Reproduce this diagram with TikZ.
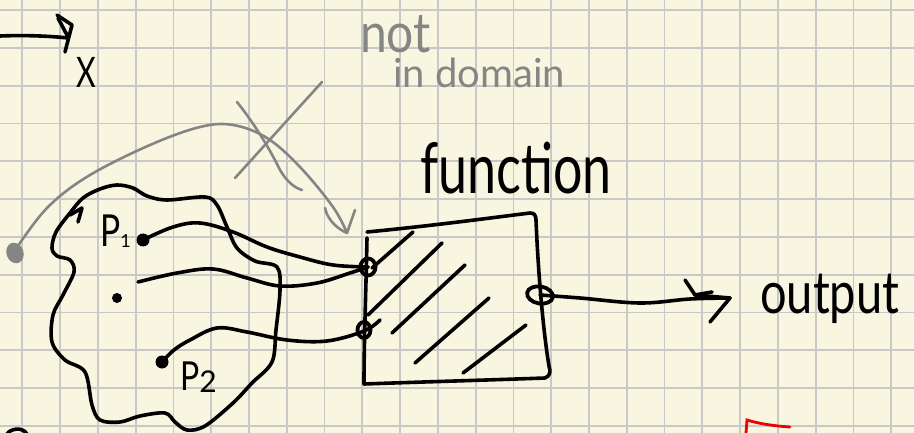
\documentclass[tikz,border=0pt]{standalone}
\usepackage{fontspec}
\setmainfont{Lato}
\usetikzlibrary{shapes.geometric}

\definecolor{paper}{HTML}{F8F6E0}
\definecolor{gridline}{HTML}{C8C8C6}
\definecolor{pencil}{HTML}{858585}
\definecolor{redpen}{HTML}{F00000}

\tikzset{
  ink/.style={line width=3.6pt, line cap=round, line join=round, black},
  greyink/.style={line width=2.6pt, line cap=round, line join=round, pencil},
  dotmark/.style={circle, fill=black, inner sep=0pt, minimum size=13pt},
  ringmark/.style={ellipse, draw=black, line width=3.8pt, inner sep=0pt},
  hand/.style={inner sep=0pt, anchor=base west},
}

\begin{document}
\begin{tikzpicture}[x=1pt, y=-1pt]
  % paper and squared grid
  \fill[paper] (0,0) rectangle (914,433);
  \useasboundingbox (0,0) rectangle (914,433);
  \foreach \i in {0,...,23}
    \draw[gridline, line width=1.8pt] (22.3+37.78*\i,0) -- (22.3+37.78*\i,433);
  \foreach \j in {0,...,11}
    \draw[gridline, line width=1.8pt] (0,10.2+37.78*\j) -- (914,10.2+37.78*\j);

  % axis arrow and its label
  \coordinate (axL) at (0,36);
  \coordinate (axR) at (68,38);
  \draw[ink] (axL) .. controls (25,35) and (50,36) .. (axR);
  \draw[ink] (58,18) -- (68,37);
  \draw[ink] (57,15) -- (72,25) -- (65,52);
  \node[hand] (xlab) at (76,88) {\fontsize{42}{42}\selectfont\scalebox{0.72}[1]{X}};

  % grey note
  \node[hand, text=pencil] (note1) at (360,53) {\fontsize{48}{48}\selectfont\scalebox{1}[1.15]{not}};
  \node[hand, text=pencil] (note2) at (393,88) {\fontsize{40}{40}\selectfont in domain};

  % the domain
  \draw[ink] plot[smooth cycle, tension=0.55] coordinates {
    (70,213) (83,198) (100,189) (117,185) (133,188) (147,196) (167,200)
    (205,197) (217,205) (227,227) (237,248) (255,261) (277,267) (280,290)
    (276,330) (272,362) (252,383) (233,403) (205,426) (187,430) (175,422)
    (165,413) (140,416) (120,422) (100,420) (92,405) (85,372) (65,360)
    (52,342) (53,315) (63,295) (74,272) (70,260) (57,256) (52,248) (56,232)};
  \draw[ink] (70,215) -- (82,208) -- (78,222);

  % points of the domain
  \node[dotmark] (p1) at (143,240) {};
  \node[dotmark, minimum size=10pt] (pm) at (117,298) {};
  \node[dotmark] (p2) at (162,362) {};
  \coordinate (mstart) at (138,282);
  \node[hand] (p1lab) at (100,247) {\fontsize{42}{42}\selectfont\scalebox{0.8}[1.05]{P}\raisebox{-1pt}{\fontsize{18}{18}\selectfont 1}};
  \node[hand] (p2lab) at (180,390) {\fontsize{40}{40}\selectfont\scalebox{0.8}[1]{P}\raisebox{-2pt}{\fontsize{30}{30}\selectfont 2}};

  % the function box
  \coordinate (fTL) at (367,232);
  \draw[ink] (367,238) .. controls (366,290) and (364,340) .. (364,384)
    .. controls (420,382) and (490,380) .. (545,378)
    .. controls (550,376) and (551,372) .. (549,366)
    .. controls (543,330) and (538,270) .. (536,220)
    .. controls (536,215) and (534,213) .. (530,213)
    .. controls (490,218) and (430,226) .. (fTL);
  \node[font=\fontsize{52}{52}\selectfont, hand] (fname) at (420,194) {\scalebox{1}[1.35]{function}};

  % hatching
  \draw[ink] (413,232) -- (372,268);
  \draw[ink] (442,243) -- (368,315);
  \draw[ink] (465,265) -- (392,333);
  \draw[ink] (489,298) -- (415,363);
  \draw[ink] (526,325) -- (463,373);

  % inputs and output
  \node[ringmark, minimum width=15pt, minimum height=17pt] (inA) at (368,267) {};
  \node[ringmark, minimum width=13pt, minimum height=16pt] (inB) at (364,330) {};
  \node[ringmark, minimum width=26pt, minimum height=17pt, rotate=-10] (outR) at (540,295) {};
  \coordinate (tailB) at (380,320);

  \draw[ink] plot[smooth, tension=0.6] coordinates {
    (p1) (173,227) (200,223) (233,232) (267,247) (300,257) (333,265) (inA)};
  \draw[ink] plot[smooth, tension=0.6] coordinates {
    (mstart) (177,273) (213,269) (247,278) (280,286) (317,283) (350,273) (inA)};
  \draw[ink] plot[smooth, tension=0.6] coordinates {
    (p2) (174,350) (190,340) (217,328) (247,332) (287,340) (327,341) (364,331) (tailB)};

  % output arrow
  \coordinate (tip) at (730,298);
  \draw[ink] plot[smooth, tension=0.6] coordinates {
    (outR) (580,298) (640,303) (690,299) (tip)};
  \draw[ink] (685,280) -- (695,295) -- (tip) -- (710,322);
  \draw[ink] (695,295) -- (712,292);
  \node[hand] (outlab) at (760,313) {\fontsize{47}{47}\selectfont\scalebox{1}[1.25]{output}};

  % grey arrow from a point outside the domain, crossed out
  \node[ellipse, fill=pencil, minimum width=17pt, minimum height=21pt, inner sep=0pt, rotate=20] (outside) at (15,253) {};
  \coordinate (gtip) at (347,233);
  \draw[greyink] plot[smooth, tension=0.6] coordinates {
    (outside) (22,240) (50,205) (90,175) (150,145) (200,127) (233,125)
    (267,138) (300,167) (333,207) (gtip)};
  \draw[greyink] (325,208) .. controls (328,222) and (340,230) .. (gtip);
  \draw[greyink] (355,210) -- (gtip);
  \draw[greyink] (322,82) -- (235,178);
  \draw[greyink] (237,102) .. controls (250,118) and (268,145) .. (280,170)
    .. controls (287,182) and (295,188) .. (302,190);

  % stray marks at the lower edge
  \draw[redpen, line width=2.8pt, line cap=round] (746,433) -- (747,420) .. controls (760,424) and (775,426) .. (790,427);
  \draw[ink] (7,434) .. controls (10,429) and (22,426) .. (27,434);
\end{tikzpicture}
\end{document}
